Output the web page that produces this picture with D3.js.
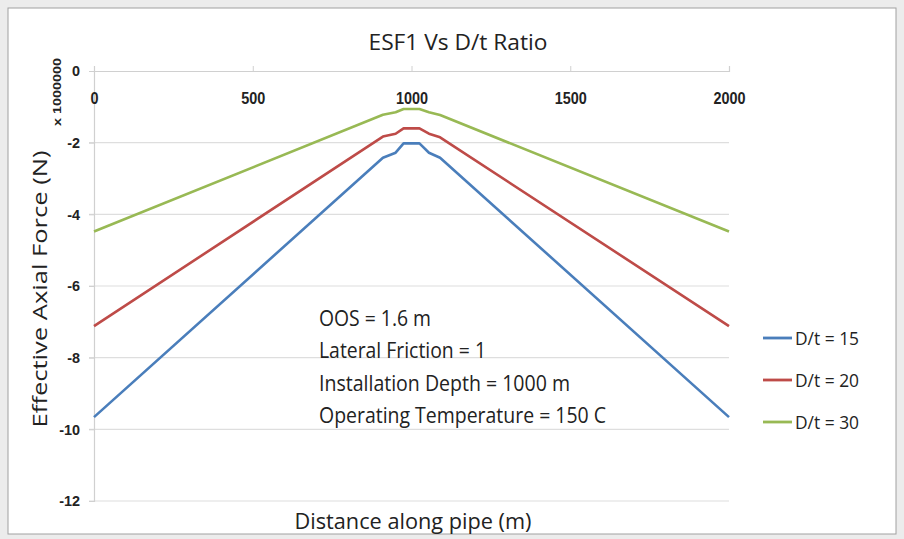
<!DOCTYPE html>
<html><head><meta charset="utf-8">
<script src="https://cdn.jsdelivr.net/npm/d3@7"></script>
<style>
html,body{margin:0;padding:0;background:#ececec;}
svg{display:block;}
</style></head>
<body>
<svg id="c" width="904" height="539"></svg>
<script>
// ---- data ----
const distance = [0, 910, 950, 975, 1025, 1055, 1090, 2000];
const dt15 = [-9.66, -2.42, -2.28, -2.02, -2.02, -2.28, -2.42, -9.66];
const dt20 = [-7.12, -1.83, -1.75, -1.60, -1.60, -1.75, -1.85, -7.12];
const dt30 = [-4.48, -1.22, -1.15, -1.06, -1.06, -1.15, -1.23, -4.48];
const seriesNames = ["D/t = 15", "D/t = 20", "D/t = 30"];
const xTicks = [0, 500, 1000, 1500, 2000];
const yTicks = [0, -2, -4, -6, -8, -10, -12];
const notes = ["OOS = 1.6 m", "Lateral Friction = 1", "Installation Depth = 1000 m", "Operating Temperature = 150 C"];

const colors = ["#4a7ebb", "#be4b48", "#98b954"];
const series = [dt15, dt20, dt30].map((vals, i) => ({
  name: seriesNames[i], color: colors[i],
  pts: distance.map((d, j) => ({x: d, y: vals[j]}))
}));

// squeeze text horizontally (reference glyphs are narrow and tall)
function squeeze(sel, s) {
  sel.each(function() {
    const w = this.getComputedTextLength();
    d3.select(this).attr("textLength", w * s).attr("lengthAdjust", "spacingAndGlyphs");
  });
}
function fitTo(sel, w) {
  sel.attr("textLength", w).attr("lengthAdjust", "spacingAndGlyphs");
}

const svg = d3.select("#c");
svg.append("rect").attr("x", 8).attr("y", 8).attr("width", 888).attr("height", 526)
  .attr("fill", "#fff").attr("stroke", "#a0a0a0").attr("stroke-width", 1);

const L = 94, R = 729, T = 71, B = 501;
const x = d3.scaleLinear().domain([0, 2000]).range([L, R]);
const y = d3.scaleLinear().domain([0, -12]).range([T, B]);

const body = "'Open Sans','Noto Sans',sans-serif";
const bold = "'Liberation Sans',Arial,sans-serif";
const ink = "#222";

// gridlines
svg.append("g").selectAll("line").data(yTicks.filter(d => d !== 0)).join("line")
  .attr("x1", L - 5).attr("x2", R).attr("y1", d => y(d)).attr("y2", d => y(d))
  .attr("stroke", "#dedede").attr("stroke-width", 1.2);

// y axis
const ya = svg.append("g").attr("transform", `translate(${L},0)`)
  .call(d3.axisLeft(y).tickValues(yTicks).tickSize(5).tickPadding(9).tickFormat(d => String(d)));
ya.select(".domain").attr("stroke", "#d0d0d0").attr("stroke-width", 1.2);
ya.selectAll(".tick line").attr("stroke", "#d0d0d0");
ya.selectAll("text").attr("font-family", bold).attr("font-weight", "bold")
  .attr("font-size", 15.5).attr("fill", ink).call(squeeze, 0.93);

// x axis (at y = 0, ticks upward, labels below)
const xa = svg.append("g").attr("transform", `translate(0,${T})`)
  .call(d3.axisTop(x).tickValues(xTicks).tickSize(5).tickFormat(d => String(d)));
xa.select(".domain").attr("stroke", "#d0d0d0").attr("stroke-width", 1.2);
xa.selectAll(".tick line").attr("stroke", "#d0d0d0");
xa.selectAll(".tick text").attr("y", 33).attr("font-family", bold).attr("font-weight", "bold")
  .attr("font-size", 16).attr("fill", ink).call(squeeze, 0.9);

// lines
const line = d3.line().x(d => x(d.x)).y(d => y(d.y));
svg.append("g").selectAll("path").data(series).join("path")
  .attr("d", d => line(d.pts)).attr("fill", "none")
  .attr("stroke", d => d.color).attr("stroke-width", 2.6).attr("stroke-linejoin", "round");

// title
svg.append("text").attr("x", 458).attr("y", 50).attr("text-anchor", "middle")
  .attr("font-family", body).attr("font-size", 22).attr("fill", ink).text("ESF1 Vs D/t Ratio")
  .call(fitTo, 179);

// unit label
svg.append("text").attr("transform", "translate(61,92) rotate(-90)").attr("text-anchor", "middle")
  .attr("font-family", bold).attr("font-weight", "bold").attr("font-size", 11.5).attr("fill", ink)
  .text("x 1000000").call(fitTo, 68);

// y title
svg.append("text").attr("transform", "translate(47,289) rotate(-90)").attr("text-anchor", "middle")
  .attr("font-family", body).attr("font-size", 20.5).attr("fill", ink).text("Effective Axial Force (N)")
  .call(fitTo, 277);

// x title
svg.append("text").attr("x", 413).attr("y", 529).attr("text-anchor", "middle")
  .attr("font-family", body).attr("font-size", 21.5).attr("fill", ink).text("Distance along pipe (m)")
  .call(fitTo, 237);

// notes
const noteW = [112, 167, 251, 287];
svg.append("g").selectAll("text").data(notes).join("text")
  .attr("x", 319).attr("y", (d, i) => 326 + i * 32.3)
  .attr("font-family", body).attr("font-size", 21.5).attr("fill", ink).text(d => d)
  .attr("textLength", (d, i) => noteW[i]).attr("lengthAdjust", "spacingAndGlyphs");

// legend
const lg = svg.append("g").selectAll("g").data(series).join("g")
  .attr("transform", (d, i) => `translate(763,${338 + i * 42})`);
lg.append("line").attr("x1", 0).attr("x2", 29).attr("stroke", d => d.color).attr("stroke-width", 2.8);
lg.append("text").attr("x", 32).attr("y", 6.5).attr("font-family", body).attr("font-size", 18.5)
  .attr("fill", ink).text(d => d.name).call(fitTo, 64);
</script>
</body></html>
